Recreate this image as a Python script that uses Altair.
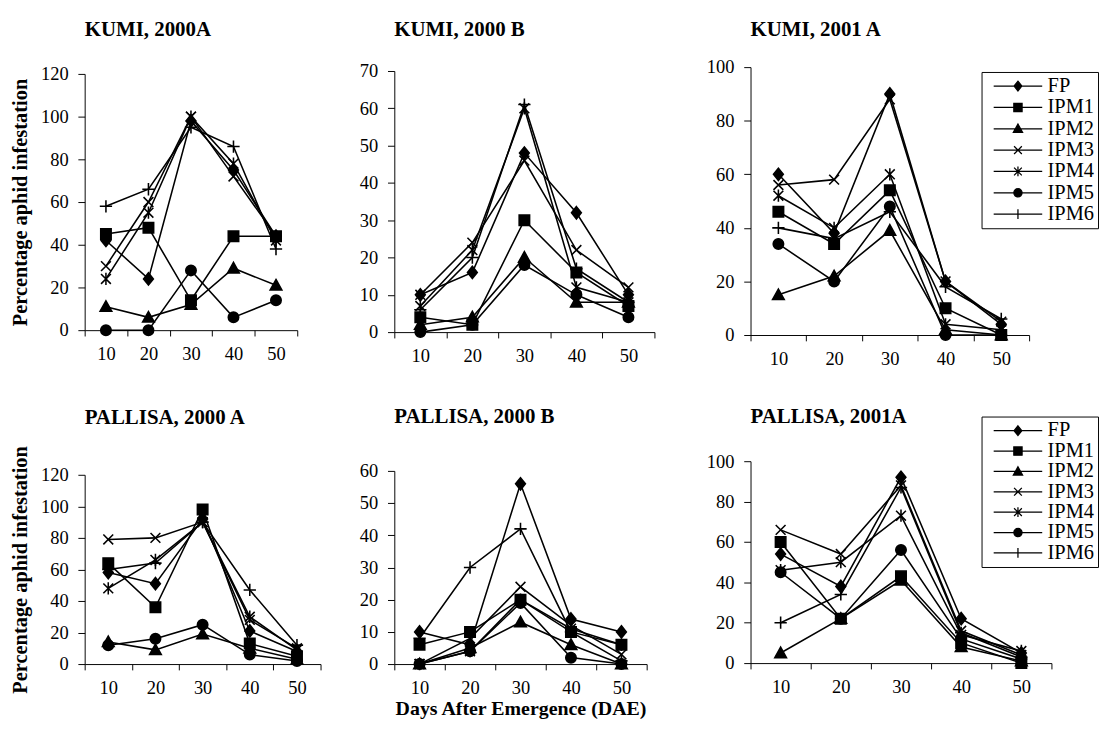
import altair as alt
import pandas as pd

DAE = [10, 20, 30, 40, 50]
SERIES = ["FP", "IPM1", "IPM2", "IPM3", "IPM4", "IPM5", "IPM6"]

KUMI_2000A = {
    "FP":   [42, 24, 98, 75, 44],
    "IPM1": [45, 48, 14, 44, 44],
    "IPM2": [11, 6, 12, 29, 21],
    "IPM3": [30, 60, 100, 72, 44],
    "IPM4": [24, 55, 100, 78, 42],
    "IPM5": [0, 0, 28, 6, 14],
    "IPM6": [58, 66, 95, 86, 38],
}
KUMI_2000B = {
    "FP":   [10, 16, 48, 32, 10],
    "IPM1": [4, 2, 30, 16, 7],
    "IPM2": [2, 4, 20, 8, 8],
    "IPM3": [10, 24, 46, 22, 12],
    "IPM4": [7, 22, 60, 12, 8],
    "IPM5": [0, 2, 18, 10, 4],
    "IPM6": [6, 20, 61, 17, 8],
}
KUMI_2001A = {
    "FP":   [60, 38, 90, 20, 4],
    "IPM1": [46, 34, 54, 10, 0],
    "IPM2": [15, 22, 39, 2, 0],
    "IPM3": [56, 58, 88, 20, 5],
    "IPM4": [52, 40, 60, 4, 2],
    "IPM5": [34, 20, 48, 0, 0],
    "IPM6": [40, 36, 46, 18, 6],
}
PALLISA_2000A = {
    "FP":   [58, 51, 92, 21, 8],
    "IPM1": [64, 36, 98, 13, 5],
    "IPM2": [14, 9, 19, 10, 3],
    "IPM3": [79, 80, 90, 28, 10],
    "IPM4": [48, 66, 90, 30, 9],
    "IPM5": [12, 16, 25, 6, 2],
    "IPM6": [60, 64, 90, 47, 12],
}
PALLISA_2000B = {
    "FP":   [10, 6, 56, 14, 10],
    "IPM1": [6, 10, 20, 10, 6],
    "IPM2": [0, 5, 13, 6, 0],
    "IPM3": [0, 8, 24, 12, 3],
    "IPM4": [0, 4, 20, 11, 6],
    "IPM5": [0, 4, 19, 2, 0],
    "IPM6": [8, 30, 42, 10, 1],
}
PALLISA_2001A = {
    "FP":   [54, 38, 92, 22, 5],
    "IPM1": [60, 22, 43, 10, 0],
    "IPM2": [5, 22, 41, 8, 1],
    "IPM3": [66, 54, 88, 16, 4],
    "IPM4": [46, 50, 73, 14, 6],
    "IPM5": [45, 22, 56, 12, 2],
    "IPM6": [20, 34, 87, 15, 3],
}

FONT = "Liberation Serif"

MARKERS = [
    "M0,-1L0.8,0L0,1L-0.8,0Z",
    "M-0.85,-0.85H0.85V0.85H-0.85Z",
    "M0,-0.95L0.95,0.75H-0.95Z",
    "M-0.8,-0.8L0.8,0.8M-0.8,0.8L0.8,-0.8",
    "M-0.8,-0.8L0.8,0.8M-0.8,0.8L0.8,-0.8M0,-1V1",
    "M0.85,0A0.85,0.85 0 1 1 -0.85,0A0.85,0.85 0 1 1 0.85,0Z",
    "M-1,0H1M0,-1V1",
]
LEGEND_SYMBOLS = ["M-5,0H5" + m for m in MARKERS]


def long_df(values):
    rows = []
    for s in SERIES:
        for d, v in zip(DAE, values[s]):
            rows.append({"series": s, "dae": d, "v": v})
    return pd.DataFrame(rows)


def panel(title, values, ymax, ystep, w, h, ytop, toffset, ytitle=None, xtitle=None,
          legend=None):
    df = long_df(values)
    x = alt.X(
        "dae:O", sort=DAE, bandPosition=0.5,
        scale=alt.Scale(type="band", paddingInner=0, paddingOuter=0),
        axis=alt.Axis(title=xtitle, tickBand="extent", labelAngle=0, labelPadding=9,
                      tickSize=6, labelFont=FONT, labelFontSize=19, labelColor="black",
                      titleFont=FONT, titleFontSize=20.5, titleFontWeight="bold",
                      titleColor="black", titlePadding=2),
    )
    y = alt.Y(
        "v:Q", scale=alt.Scale(domain=[0, ymax], nice=False, range=[h, ytop]),
        axis=alt.Axis(title=ytitle, values=list(range(0, ymax + 1, ystep)), tickSize=7,
                      labelPadding=10, labelFont=FONT, labelFontSize=19,
                      labelColor="black", titleFont=FONT, titleFontSize=21,
                      titleFontWeight="bold", titleColor="black", titlePadding=10),
    )
    base = alt.Chart(df)
    lines = base.mark_line(color="black", strokeWidth=1.6).encode(x=x, y=y, detail="series:N")
    pts = base.mark_point(filled=True, fill="black", stroke="black", strokeWidth=1.6,
                          opacity=1, size=160).encode(
        x=x, y=y,
        shape=alt.Shape("series:N", scale=alt.Scale(domain=SERIES, range=MARKERS), legend=None),
    )
    layers = [lines, pts]
    if legend is not None:
        lx, ly, rp = legend
        leg = base.transform_filter("datum.v < 0").mark_point(
            filled=False, fill="black", stroke="black", strokeWidth=1.3, opacity=1, size=100
        ).encode(
            x=x, y=y,
            shape=alt.Shape(
                "series:N", scale=alt.Scale(domain=SERIES, range=LEGEND_SYMBOLS),
                legend=alt.Legend(
                    title=None, orient="none", legendX=lx, legendY=ly,
                    strokeColor="black", fillColor="white", padding=4, cornerRadius=0,
                    labelFont=FONT, labelFontSize=21, labelColor="black",
                    rowPadding=rp, symbolSize=100, symbolStrokeWidth=1.3,
                    symbolOffset=23, labelOffset=20,
                ),
            ),
        )
        layers.append(leg)
    return alt.layer(*layers).resolve_scale(shape="independent").properties(
        width=w, height=h,
        title=alt.TitleParams(title, font=FONT, fontSize=21.5, fontWeight="bold",
                              anchor="start", frame="group", offset=toffset, color="black"),
    )


YT = "Percentage aphid infestation"
p1 = panel("KUMI, 2000A", KUMI_2000A, 120, 20, 219, 271, 7, 26, ytitle=YT)
p2 = panel("KUMI, 2000 B", KUMI_2000B, 70, 10, 268, 273, 4, 23)
p3 = panel("KUMI, 2001 A", KUMI_2001A, 100, 20, 287, 276, 0, 19, legend=(238, 5, 0))
p4 = panel("PALLISA, 2000 A", PALLISA_2000A, 120, 20, 243, 209, 14, 18, ytitle=YT)
p5 = panel("PALLISA, 2000 B", PALLISA_2000B, 60, 10, 260, 209, 10, 35,
           xtitle="Days After Emergence (DAE)")
p6 = panel("PALLISA, 2001A", PALLISA_2001A, 100, 20, 310, 208, 0, -12, legend=(238, -46, -3))

row1 = alt.hconcat(p1, alt.hconcat(p2, p3, spacing=99, bounds="flush"),
                   spacing=100, bounds="flush")
row2 = alt.hconcat(p4, alt.hconcat(p5, p6, spacing=107, bounds="flush"),
                   spacing=76, bounds="flush")

chart = alt.vconcat(row1, row2, spacing=39).properties(
    padding={"left": 2, "top": 0, "right": 0, "bottom": 0}
).configure_view(stroke=None).configure_axis(
    grid=False, domainColor="black", domainWidth=1, tickColor="black", tickWidth=1,
)

chart.save("out.html", embed_options={"renderer": "svg", "actions": False})
